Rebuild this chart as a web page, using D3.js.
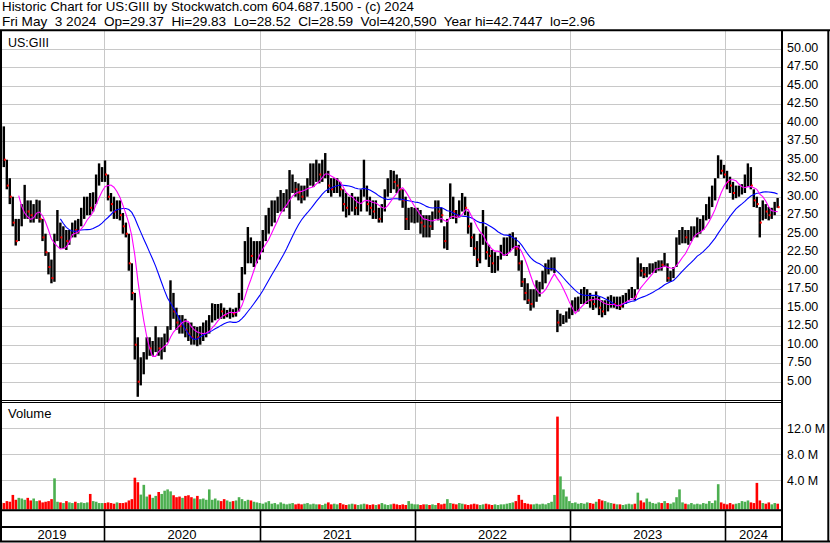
<!DOCTYPE html>
<html><head><meta charset="utf-8">
<script src="https://cdn.jsdelivr.net/npm/d3@7"></script>
<style>
html,body{margin:0;padding:0;background:#fff;}
svg{display:block;font-family:"Liberation Sans",Arial,sans-serif;}
text{white-space:pre;}
</style></head><body>
<svg id="c" width="830" height="543"></svg>
<script>
// ---- data (weekly, first week ending 2019-05-03) ----
const firstWeek = "2019-05-03";
const weeklyClose = [
38,35,31.5,30,26.5,24,26,28,28.5,28,
27.5,28,28.5,27,24.5,22.5,20.5,19,24,25.5,
24.5,25,24,25,26,25.5,26.5,27.5,28.5,29,
28.5,30,32.5,33,33.5,33,30,29,28,28.5,
27.5,26,25,21,17,10,5,7,8,10,
9.5,9.5,10,9.5,9.5,10.5,12,16,14.5,13,
12.5,12.5,12,11.5,11,11.5,11,11.5,12,12.5,
13,14.5,14.5,14.8,14.5,14,14,14.3,14.2,14.5,
16.5,19.5,22,23,22,22.5,23,23,25,26.5,
27.5,28,28.5,29,29.5,29.5,30,32,32,31,
30.5,30,30.5,31.5,33,33,33.5,33,33.5,34,
31.5,31,31.5,31.5,31,29,28.5,29,29.5,28.5,
29,30,31.5,29,28.5,28,28,27,28,30.5,
31.5,32.5,32,31.5,31,29.5,27,27,27.5,27.5,
27.5,26.5,26,26.5,26,27,28.5,28,27.5,24,
25.5,30,28,27.5,28.5,29.5,28.5,26,24.5,23,
21.5,24,26.5,22.5,22,21,21,21.5,23,23.5,
23.5,24,24.5,23,21,18.5,17,16,15.5,16.5,
17.5,17.5,19,20,21,21,21,13,13.5,13.5,
14,14.5,15.5,15.5,16,16.5,16.5,16.5,16,15.5,
16.5,15,14.5,15,15.5,16,15.5,15.5,15.2,16,
16.5,17,17.2,16.5,20.5,20,19.5,20,20.3,20.5,
20.8,21,20.8,21,19,19.5,20,23.5,24.5,25,
24.5,24.5,25,25.5,26,26,27,28,29,30.5,
31.5,34,33.5,33,32,31.5,30.5,30.5,31,31,
32,33,31.5,29.5,29,26.5,28.5,28,27.5,27.8,
29,28.59];
const weeklyHigh = [
40,39.5,35,32.5,30,27,27,29,31.6,29.5,
29.5,29,29.6,29.5,27,25,22.5,21.5,25,28.2,
26.5,26,25.5,25.5,26.5,26.8,27,28.5,30,30,
30.5,30.6,33,34.5,34,34.9,33,30.5,30,29.5,
29.5,27.8,26.5,25,21,17,11,8.3,9,11,
11,10.5,12.5,11,11,11.5,12.5,18.7,17,15,
14,14,13.5,13,13,12.5,12.4,12.5,13,13.3,
14,15.6,15.5,15.5,15.6,15,14.7,15,14.8,15,
17,20.5,24,25.9,24.5,24,24,24,25.5,27.5,
28.5,29.5,29.5,30,30.9,30.5,31,33.6,33,32,
31.8,31.5,31.5,32.5,34.5,34.5,35,34.5,35,35.9,
33.5,32.5,32.5,32.5,32,31,30.5,30,30.5,30,
30,31,35,31.5,30,29.5,29.5,28.5,29,31,
32.5,33.6,33.5,33,32.5,31,30,28.5,28.6,28.5,
28.5,28.2,27.5,27.5,27.5,28,29.5,29.5,28.5,26,
27,31.8,30,28.2,29.5,30.5,30,28,26.5,25,
24,25,28.2,26,23.5,22.8,22.5,22,23.5,24.5,
24.5,25,25.2,24.5,23.5,21.4,19,18.3,17.5,17.5,
18.7,18.5,20,21,21.5,21.8,21.8,14.7,14.2,14,
14.5,15,16,16.4,16.5,17.5,17.8,17.5,17,16.5,
17.2,16.5,16,16,16.5,16.7,16.5,16.5,16.5,16.7,
17,17.5,17.8,17.5,21.8,21,20.5,20.5,21,21,
21.2,21.4,21.4,22.4,21,20,20.5,24.5,25.5,25.9,
25.5,25.5,26,26,27.2,27,27.5,29,30,31.5,
32.5,35.6,35,34.3,33.5,32.7,32,31.5,31.5,31.7,
33,34.5,34,31,30,28.6,29.5,29,28.6,28.5,
29.3,29.83];
const weeklyLow = [
36.5,34,31,29,26,23.4,24,26,27,27,
26.5,26.5,27,26.5,24,22,19.5,18.3,18.5,24,
23,23,22.8,23.5,24.5,24.5,25,26,27,27.5,
27.5,28,29,31.5,32,32,29.5,28,27,27,
26.8,25,24.5,20,16,8,2.96,4.5,6,8,
8.5,8.5,9,8.5,8,9,10.3,12,13.5,12,
11.5,11.5,11,10.5,10,10,9.8,10,10.5,11,
11.5,13,13.3,13.5,13.5,13.5,13.7,13.5,13.7,13.8,
14.5,16,19.5,21,21,20.5,21,21.5,22.5,24,
25,26,26.5,27.8,28,28,28.5,27,30.5,30,
29.5,29.1,29.5,30,31.5,31.3,32,31.8,32,32.5,
30.5,30,30.5,30.5,30,28,27.2,27.5,28,27.5,
27.5,28,30,28,27.5,27,27,26.5,26.5,28,
30,30.5,31,30.5,29.5,28.5,25.5,25.5,26.5,26.4,
26.5,25,24.5,24.5,24.5,25.5,27,26.8,26.5,23,
22.8,27,27,26.4,27.2,28,27.5,25,23.2,22,
20.5,21,23.5,21.5,20.5,19.7,19.7,20,21.5,22,
22,22.5,23,22,20,17.8,16,15.5,14.6,15,
15.8,16.5,17.5,18.3,19.5,20,19.7,11.7,12.5,12.8,
13,13.5,14,14.5,14.5,15.5,15.5,15.5,15,14.7,
15,14,13.7,14,14.5,15,15,14.8,14.7,15,
15.5,16,16.3,16,17.5,19.2,19,19.1,19.5,19.7,
19.7,20,20,20.5,18.5,18.5,19,20.5,23.5,23.7,
23.7,23.5,24,24.5,24.5,25,25.5,26.8,27,28.6,
29.5,32.5,33,32.5,31,30.5,29.6,29.8,30,30.3,
30.5,31.3,31,28.6,28.5,24.5,26.8,27,26.8,27,
27.5,28.5];
const weeklyVolumeM = [
0.6,0.5,0.8,0.7,1.75,1.0,1.3,1.2,1.0,1.3,
0.9,1.2,0.8,0.9,0.6,0.7,0.8,1.1,4.3,0.7,
0.6,0.5,0.8,0.6,0.5,0.7,0.5,0.6,0.5,0.6,
1.9,0.8,0.7,0.5,0.5,0.5,0.6,0.5,0.4,0.6,
0.5,0.5,0.6,0.9,1.1,4.4,3.7,1.8,3.3,1.5,
1.8,1.3,1.6,2.2,1.9,2.4,2.6,2.3,1.7,1.4,
1.5,1.3,1.6,1.7,1.4,1.2,1.6,1.1,1.2,1.0,
2.6,1.0,1.2,0.9,0.8,1.1,0.9,0.7,0.8,0.9,
1.4,1.1,0.8,1.0,0.9,0.7,0.6,0.5,0.4,0.6,
0.8,0.4,0.5,0.3,0.6,0.4,0.3,0.4,0.5,0.3,
0.4,0.3,0.4,0.5,0.3,0.4,0.3,0.3,0.2,0.4,
0.6,0.3,0.4,0.3,0.5,0.3,0.2,0.3,0.4,0.3,
0.2,0.3,0.4,0.3,0.2,0.3,0.2,0.3,0.5,0.3,
0.2,0.3,0.4,0.3,0.2,0.3,0.2,0.8,0.4,0.3,
0.3,0.2,0.3,0.3,0.2,0.3,0.2,0.5,0.3,0.4,
1.1,0.5,0.4,0.3,0.5,0.4,0.3,0.2,0.3,0.4,
0.3,0.2,0.3,0.4,0.3,0.2,0.3,0.2,0.3,0.3,
0.4,0.5,0.6,0.8,1.75,1.0,0.5,0.4,0.3,0.3,
0.4,0.3,0.4,0.3,0.5,0.7,1.75,13.8,4.6,2.6,
1.5,0.8,0.5,0.6,0.4,0.5,0.4,0.6,0.5,0.4,
0.7,1.1,0.9,0.8,0.6,0.5,0.4,0.3,0.3,0.2,
0.3,0.4,0.3,0.4,2.1,0.9,0.6,1.2,0.7,0.5,
0.4,0.6,0.5,0.8,0.5,0.4,0.6,1.4,2.6,0.6,
0.4,0.3,0.5,0.3,0.4,0.3,0.5,0.4,0.8,0.5,
0.9,3.4,0.6,0.4,0.3,0.5,0.3,0.4,0.5,0.8,
0.7,0.9,0.6,0.5,3.6,0.9,0.5,0.4,0.6,0.3,
0.5,0.4];
const maFastWeeks = 7;
const maSlowWeeks = 21;
const priceTicks = [5,7.5,10,12.5,15,17.5,20,22.5,25,27.5,30,32.5,35,37.5,40,42.5,45,47.5,50];
const volumeTicks = [4,8,12];
const yearLabels = ["2019","2020","2021","2022","2023","2024"];
const headerLines = [
  "Historic Chart for US:GIII by Stockwatch.com 604.687.1500 - (c) 2024",
  "Fri May  3 2024  Op=29.37  Hi=29.83  Lo=28.52  Cl=28.59  Vol=420,590  Year hi=42.7447  lo=2.96"
];
const headerWidths = [412, 593];
const symbolLabel = "US:GIII";
const volumeLabel = "Volume";

// ---- layout ----
const svg = d3.select("#c");
const plotRight = 782;
const priceTop = 31, priceBottom = 400;
const volTop = 402, volBottom = 509.5;
const stripMid = 527, bottomY = 541.5;

const x = d3.scaleTime()
  .domain([new Date(2019,4,1), new Date(2024,4,12,14)])
  .range([0, 781.7]);
const yP = d3.scaleLinear().domain([5,50]).range([381.7, 48.7]);
const yV = d3.scaleLinear().domain([0,12]).range([506.3, 428.3]);

const start = d3.timeParse("%Y-%m-%d")(firstWeek);
const weeks = weeklyClose.map((c,i)=>({
  date: d3.timeDay.offset(start, 7*i),
  c, h: weeklyHigh[i], l: weeklyLow[i], v: weeklyVolumeM[i],
  up: i===0 ? true : c >= weeklyClose[i-1]
}));

// grid
const grid = svg.append("g").attr("stroke","#c8c8c8").attr("stroke-width",1);
priceTicks.forEach(t=>{
  const yy = Math.round(yP(t))+0.5;
  grid.append("line").attr("x1",2).attr("x2",plotRight-1).attr("y1",yy).attr("y2",yy);
});
volumeTicks.forEach(t=>{
  const yy = Math.round(yV(t))+0.5;
  grid.append("line").attr("x1",2).attr("x2",plotRight-1).attr("y1",yy).attr("y2",yy);
});
const yearStarts = [2020,2021,2022,2023,2024].map(y=>new Date(y,0,1));
yearStarts.forEach(d=>{
  const xx = Math.round(x(d))+0.5;
  grid.append("line").attr("x1",xx).attr("x2",xx).attr("y1",priceTop).attr("y2",priceBottom);
  grid.append("line").attr("x1",xx).attr("x2",xx).attr("y1",volTop).attr("y2",volBottom);
});

// price bars
const bars = svg.append("g");
bars.selectAll("rect.hl").data(weeks).join("rect")
  .attr("class","hl")
  .attr("x",d=>x(d.date)-1.2).attr("width",2.4)
  .attr("y",d=>yP(d.h)).attr("height",d=>Math.max(1,yP(d.l)-yP(d.h)))
  .attr("fill","#000");
bars.selectAll("rect.cl").data(weeks.filter(d=>!d.up)).join("rect")
  .attr("class","cl")
  .attr("x",d=>x(d.date)).attr("width",2)
  .attr("y",d=>yP(d.c)-1).attr("height",2)
  .attr("fill","#ff0000");

// moving averages
function sma(n){
  const out=[];
  for(let i=n-1;i<weeks.length;i++){
    out.push({date:weeks[i].date, v:d3.mean(weeks.slice(i-n+1,i+1),d=>d.c)});
  }
  return out;
}
const line = d3.line().x(d=>x(d.date)).y(d=>yP(d.v));
svg.append("path").attr("d",line(sma(maSlowWeeks))).attr("fill","none").attr("stroke","#0000ff").attr("stroke-width",1.1);
svg.append("path").attr("d",line(sma(maFastWeeks))).attr("fill","none").attr("stroke","#ff00ff").attr("stroke-width",1.1);

// volume bars
svg.append("g").selectAll("rect").data(weeks).join("rect")
  .attr("x",d=>x(d.date)-1.2).attr("width",2.6)
  .attr("y",d=>yV(d.v)).attr("height",d=>volBottom-yV(d.v))
  .attr("fill",d=>d.up?"#4caf50":"#ff0000");

// frame
const frame = svg.append("g").attr("stroke","#000");
frame.append("line").attr("x1",0).attr("x2",830).attr("y1",30.3).attr("y2",30.3).attr("stroke-width",2);
frame.append("line").attr("x1",1).attr("x2",1).attr("y1",30).attr("y2",542).attr("stroke-width",2);
frame.append("line").attr("x1",plotRight).attr("x2",plotRight).attr("y1",30).attr("y2",542).attr("stroke-width",2);
frame.append("line").attr("x1",828.3).attr("x2",828.3).attr("y1",30).attr("y2",542).attr("stroke-width",2);
frame.append("line").attr("x1",0).attr("x2",830).attr("y1",bottomY).attr("y2",bottomY).attr("stroke-width",2);
frame.append("line").attr("x1",0).attr("x2",plotRight).attr("y1",400.5).attr("y2",400.5).attr("stroke-width",1);
frame.append("line").attr("x1",0).attr("x2",plotRight).attr("y1",402.5).attr("y2",402.5).attr("stroke-width",1);
frame.append("line").attr("x1",0).attr("x2",plotRight).attr("y1",510.3).attr("y2",510.3).attr("stroke-width",2);
frame.append("line").attr("x1",0).attr("x2",plotRight).attr("y1",stripMid).attr("y2",stripMid).attr("stroke-width",2);
yearStarts.forEach(d=>{
  const xx = Math.round(x(d))+0.5;
  frame.append("line").attr("x1",xx).attr("x2",xx).attr("y1",510).attr("y2",541).attr("stroke-width",1.6);
});

// texts
const txt = svg.append("g").attr("fill","#000").style("font-size","13px");
headerLines.forEach((s,i)=>{
  txt.append("text").attr("x",2).attr("y",11+i*14.5)
    .attr("textLength",headerWidths[i]).attr("lengthAdjust","spacingAndGlyphs").text(s);
});
txt.append("text").attr("x",8).attr("y",46.5).style("font-size","12.5px").text(symbolLabel);
txt.append("text").attr("x",8).attr("y",418).text(volumeLabel);
priceTicks.forEach(t=>{
  txt.append("text").attr("x",787).attr("y",yP(t)+3.2).style("font-size","12.5px").text(d3.format(".2f")(t));
});
volumeTicks.forEach(t=>{
  txt.append("text").attr("x",787).attr("y",yV(t)+4.5).style("font-size","12.5px").text(d3.format(".1f")(t)+" M");
});
const dom = x.domain();
yearLabels.forEach(y=>{
  const a = new Date(+y,0,1), b = new Date(+y+1,0,1);
  const x0 = x(a < dom[0] ? dom[0] : a), x1 = x(b > dom[1] ? dom[1] : b);
  txt.append("text").attr("x",(x0+x1)/2).attr("y",539).attr("text-anchor","middle").text(y);
});
</script>
</body></html>
